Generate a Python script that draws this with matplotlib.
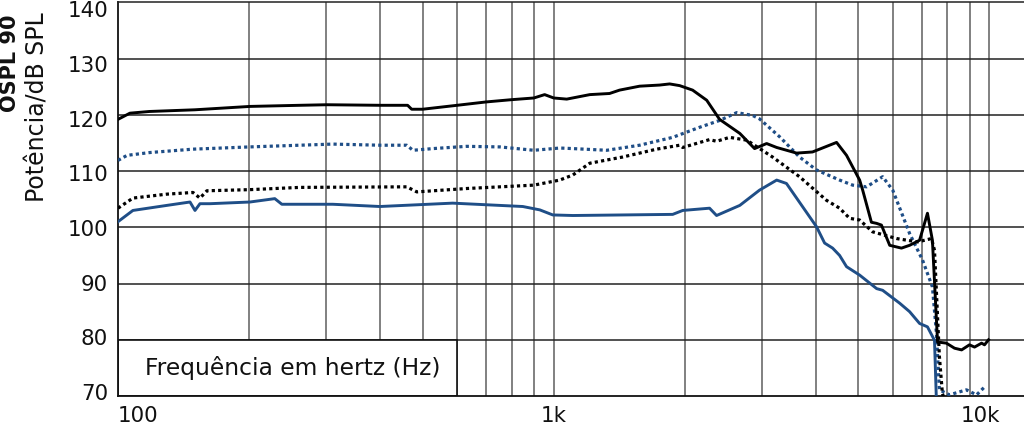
import matplotlib
matplotlib.use('Agg')
import matplotlib.pyplot as plt
from matplotlib.patches import Rectangle
from matplotlib.ticker import NullLocator
from matplotlib.transforms import ScaledTranslation

plt.rcParams['font.family'] = ['DejaVu Sans']

BLUE = '#1f4e87'
BLACK = '#000000'

# OSPL90 - black solid
ospl_freq = [100, 106.5, 118, 150, 200.8, 261, 301.5, 400, 462, 472, 500, 600, 700, 800,
             900, 953, 1000, 1071, 1210, 1343, 1416, 1574, 1750, 1845, 1945, 2083, 2244,
             2402, 2673, 2890, 3080, 3248, 3608, 3925, 4457, 4698, 5035, 5117, 5358, 5508,
             5649, 5902, 6281, 6556, 6911, 7205, 7396, 7600, 7962, 8313, 8630, 8995, 9240,
             9590, 9740, 9950]
ospl_db = [119.2, 120.3, 120.6, 120.9, 121.5, 121.7, 121.8, 121.7, 121.7, 121.0, 121.0, 121.7,
           122.3, 122.7, 123.0, 123.6, 123.0, 122.8, 123.6, 123.8, 124.4, 125.1, 125.3, 125.5,
           125.2, 124.4, 122.6, 119.2, 116.7, 114.0, 114.9, 114.2, 113.2, 113.4, 115.1, 112.8,
           108.4, 106.6, 100.9, 100.7, 100.4, 96.8, 96.3, 96.8, 97.7, 102.5, 97.7, 79.6, 79.4,
           78.5, 78.2, 79.1, 78.7, 79.4, 79.1, 80.0]

# blue dotted
bdot_freq = [100, 104.9, 118.4, 148.6, 200.8, 311, 399, 460, 475, 528, 631, 752, 900, 1032,
             1106, 1323, 1574, 1875, 2163, 2402, 2630, 2858, 2965, 3299, 3664, 4009, 4529,
             4853, 5224, 5686, 5998, 6556, 7018, 7396, 7555, 7674, 8090, 8851, 9340, 9740]
bdot_db = [111.9, 112.8, 113.3, 113.9, 114.3, 114.8, 114.6, 114.6, 113.7, 114.0, 114.4, 114.3,
           113.7, 114.1, 114.0, 113.7, 114.6, 116.0, 117.8, 119.0, 120.4, 119.9, 119.3, 116.1,
           112.5, 110.2, 108.4, 107.5, 107.2, 109.0, 106.6, 98.9, 94.2, 89.4, 81.2, 71.1, 70.2,
           71.1, 70.2, 71.6]

# black dotted
kdot_freq = [100, 108.2, 129.5, 148.6, 154.2, 160, 200.8, 261.5, 460, 485, 631, 900, 1032,
             1106, 1210, 1439, 1722, 1945, 1977, 2278, 2364, 2533, 2773, 3178, 3664, 4227,
             4529, 4775, 5035, 5391, 6124, 6840, 7362, 7478, 7674, 7796, 7900]
kdot_db = [103.4, 105.2, 105.9, 106.2, 105.2, 106.5, 106.7, 107.1, 107.2, 106.3, 106.9, 107.5,
           108.4, 109.3, 111.4, 112.5, 113.9, 114.6, 114.2, 115.6, 115.3, 116.0, 115.5, 112.5,
           109.0, 104.8, 103.4, 101.6, 101.3, 99.2, 98.0, 97.4, 98.0, 95.9, 77.0, 70.5, 69.0]

# blue solid
bsol_freq = [100, 108.2, 129.5, 146.3, 150.2, 154.2, 162.6, 200.8, 229, 237.7, 311, 399, 586,
             849, 929, 995, 1106, 1875, 1977, 2278, 2364, 2673, 2965, 3248, 3420, 4009, 4184,
             4365, 4529, 4698, 5035, 5508, 5686, 6222, 6556, 6911, 7205, 7478, 7555]
bsol_db = [101.0, 103.0, 103.9, 104.5, 103.0, 104.2, 104.2, 104.5, 105.1, 104.1, 104.1, 103.7,
           104.3, 103.7, 103.1, 102.2, 102.1, 102.3, 103.0, 103.4, 102.1, 103.9, 106.6, 108.4,
           107.8, 100.1, 97.2, 96.3, 95.0, 93.0, 91.5, 89.1, 88.8, 86.5, 85.0, 82.9, 82.3, 79.9,
           69.0]

x_ticks = [100, 1000, 10000]
x_labels = ['100', '1k', '10k']
y_ticks = list(range(70, 141, 10))

fig = plt.figure(figsize=(10.24, 4.26), dpi=100)
ax = fig.add_axes([118 / 1024, 30 / 426, 1 - 118 / 1024, 393.6 / 426])

ax.set_xscale('log')
ax.set_xlim(100, 12000)
ax.set_ylim(70, 140)

# grid
vgrid = [200, 300, 400, 500, 600, 700, 800, 900, 1000, 2000, 3000, 4000, 5000, 6000, 7000,
         8000, 9000, 10000]
for f in vgrid:
    ax.axvline(f, color='#5e5e5e', lw=1.1, zorder=1)
for db in y_ticks[1:-1]:
    ax.axhline(db, color='#222222', lw=1.1, zorder=1)

# label box
ax.add_patch(Rectangle((100, 70), 500, 10, facecolor='white', edgecolor='#111111',
                       lw=1.2, zorder=2))
ax.text(252, 75, 'Frequência em hertz (Hz)', ha='center', va='center', fontsize=16.8,
        color='#111111', zorder=3)

ax.plot(ospl_freq, ospl_db, color=BLACK, lw=2.1, zorder=5)
ax.plot(bdot_freq, bdot_db, color=BLUE, lw=2.3, linestyle=(0, (1, 1)), zorder=4)
ax.plot(kdot_freq, kdot_db, color=BLACK, lw=2.3, linestyle=(0, (1, 1)), zorder=4)
ax.plot(bsol_freq, bsol_db, color=BLUE, lw=2.1, zorder=4)

# tick labels as text (the original spaces its y labels slightly tighter than the grid)
ax.xaxis.set_major_locator(NullLocator())
ax.xaxis.set_minor_locator(NullLocator())
ax.yaxis.set_major_locator(NullLocator())
xform = ax.get_xaxis_transform()
for f, lab, ha, dx in zip(x_ticks, x_labels, ['left', 'center', 'center'], [0, 0, -9]):
    ax.text(f, 0, lab, ha=ha, va='top', fontsize=15.4, color='#111111',
            transform=xform + ScaledTranslation(dx / 100, -10 / 100, fig.dpi_scale_trans),
            clip_on=False)
yform = ax.get_yaxis_transform()
for db in y_ticks:
    dy = 4 - 11 * (db - 70) / 70
    ax.text(0, db, str(db), ha='right', va='center_baseline', fontsize=15.4, color='#111111',
            transform=yform + ScaledTranslation(-10 / 100, dy / 100, fig.dpi_scale_trans),
            clip_on=False)
ax.tick_params(axis='both', length=0)

for s in ['left', 'bottom']:
    ax.spines[s].set_color('#111111')
    ax.spines[s].set_linewidth(1.3)
ax.spines['top'].set_color('#222222')
ax.spines['top'].set_linewidth(1.1)
ax.spines['right'].set_visible(False)

fig.text(10 / 1024, 1 - 14 / 426, 'OSPL 90', rotation=90, ha='center', va='top',
         fontsize=15, fontweight='bold', color='#111111')
fig.text(38 / 1024, 1 - 12 / 426, 'Potência/dB SPL', rotation=90, ha='center', va='top',
         fontsize=17, color='#111111')

fig.savefig('out.png', dpi=100)
